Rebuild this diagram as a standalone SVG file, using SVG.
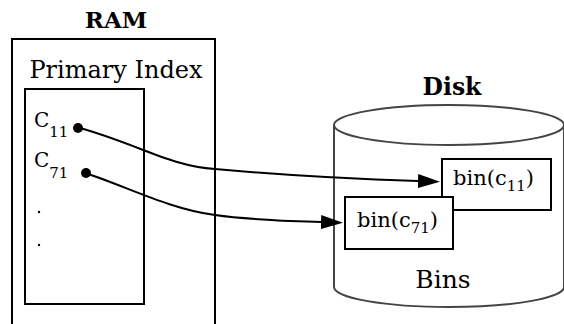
<svg xmlns="http://www.w3.org/2000/svg" width="564" height="324" viewBox="0 0 564 324">
<defs>
<style>
text{font-family:'DejaVu Serif',serif;fill:#000}
.b{font-weight:bold}
.box{fill:#fff;stroke:#000;stroke-width:2}
.cyl{fill:#fff;stroke:#444;stroke-width:2}
.edge{fill:none;stroke:#000;stroke-width:2}
</style>
<marker id="ah" markerWidth="22" markerHeight="14" refX="0" refY="7" orient="auto" markerUnits="userSpaceOnUse">
<path d="M0,0 L22,7 L0,14 Z" fill="#000"/>
</marker>
</defs>
<rect width="564" height="324" fill="#fff"/>
<g id="ram">
<text class="b" x="116" y="28" font-size="23" text-anchor="middle">RAM</text>
<rect class="box" x="12" y="39" width="203" height="300"/>
<text x="116" y="78" font-size="24" text-anchor="middle">Primary Index</text>
</g>
<g id="primary-index">
<rect class="box" x="25" y="89" width="119" height="215"/>
<text x="34" y="127" font-size="20">C<tspan font-size="15" dy="10">11</tspan></text>
<text x="34" y="167" font-size="20">C<tspan font-size="15" dy="11">71</tspan></text>
<circle cx="78" cy="128" r="5" fill="#000"/>
<circle cx="86" cy="173" r="5" fill="#000"/>
<circle cx="39" cy="212" r="1.2" fill="#000"/>
<circle cx="39" cy="245" r="1.2" fill="#000"/>
</g>
<g id="disk">
<text class="b" x="452" y="95" font-size="23.5" text-anchor="middle">Disk</text>
<path class="cyl" d="M334,125 A115,20 0 0 1 564,125 L564,287 A115,20 0 0 1 334,287 Z"/>
<path class="cyl" fill="none" d="M334,125 A115,20 0 0 0 564,125"/>
<text x="443" y="288" font-size="25" text-anchor="middle">Bins</text>
</g>
<g id="bin-c11">
<rect class="box" x="442" y="159" width="109" height="51"/>
<text x="453" y="185" font-size="21">bin(c<tspan font-size="15" dy="6">11</tspan><tspan dy="-6">)</tspan></text>
</g>
<g id="bin-c71">
<rect class="box" x="345" y="197" width="108" height="52"/>
<text x="357" y="227" font-size="21">bin(c<tspan font-size="15" dy="6">71</tspan><tspan dy="-6">)</tspan></text>
</g>
<g id="connectors">
<path class="edge" marker-end="url(#ah)" d="M80,128 C140,145 170,166 215,169 C280,175 350,179 418,181"/>
<path class="edge" marker-end="url(#ah)" d="M88,174 C130,188 170,209 215,215 C250,220 290,221 321,222"/>
</g>
</svg>
